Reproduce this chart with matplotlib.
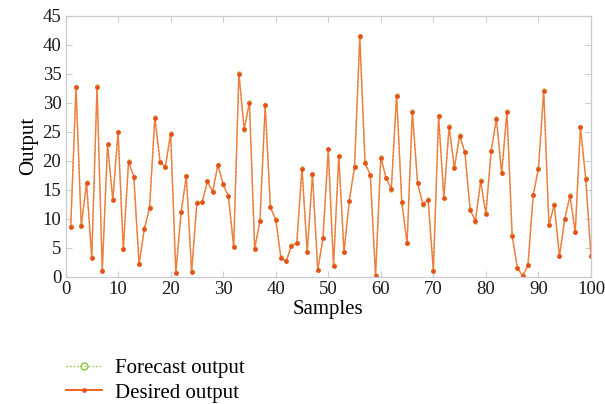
import numpy as np
import matplotlib.pyplot as plt

# sample index and values
samples = np.arange(1, 101)
desired = [
    8.6, 32.6, 8.7, 16.1, 3.2, 32.7, 1.0, 22.8, 13.2, 24.9,
    4.7, 19.8, 17.2, 2.1, 8.2, 11.8, 27.4, 19.8, 18.9, 24.6,
    0.6, 11.1, 17.3, 0.8, 12.7, 12.8, 16.4, 14.6, 19.2, 15.9,
    13.9, 5.1, 35.0, 25.4, 30.0, 4.8, 9.5, 29.5, 11.9, 9.8,
    3.2, 2.6, 5.3, 5.7, 18.6, 4.2, 17.6, 1.1, 6.6, 21.9,
    1.8, 20.7, 4.2, 13.0, 18.9, 41.4, 19.6, 17.5, 0.1, 20.5,
    17.0, 15.1, 31.2, 12.8, 5.7, 28.4, 16.1, 12.5, 13.2, 1.0,
    27.6, 13.5, 25.8, 18.7, 24.3, 21.4, 11.5, 9.6, 16.4, 10.8,
    21.6, 27.2, 17.8, 28.4, 7.0, 1.4, 0.1, 1.9, 14.0, 18.6,
    32.0, 8.8, 12.4, 3.5, 9.9, 13.9, 7.6, 25.7, 16.8, 3.5,
]
# forecast overlaps the desired curve almost exactly
forecast = [
    8.7, 32.7, 8.8, 16.3, 3.3, 32.8, 1.1, 22.7, 13.3, 25.0,
    4.8, 19.9, 17.1, 2.2, 8.3, 11.9, 27.5, 19.7, 18.8, 24.7,
    0.7, 11.2, 17.4, 0.9, 12.8, 12.9, 16.3, 14.7, 19.3, 15.8,
    13.8, 5.2, 35.1, 25.3, 30.1, 4.9, 9.6, 29.6, 12.0, 9.9,
    3.3, 2.7, 5.4, 5.8, 18.7, 4.3, 17.5, 1.2, 6.7, 22.0,
    1.9, 20.8, 4.3, 13.1, 19.0, 41.3, 19.7, 17.4, 0.2, 20.6,
    16.9, 15.0, 31.3, 12.7, 5.8, 28.5, 16.2, 12.3, 13.3, 1.1,
    27.7, 13.6, 25.9, 18.8, 24.4, 21.5, 11.6, 9.4, 16.6, 10.9,
    21.7, 27.3, 17.9, 28.5, 7.1, 1.5, 0.2, 2.0, 14.1, 18.7,
    32.1, 8.9, 12.5, 3.6, 10.0, 14.0, 7.7, 25.8, 16.9, 3.6,
]

plt.rcParams['font.family'] = ['Liberation Serif', 'DejaVu Serif']

fig = plt.figure(figsize=(6.05, 4.04), dpi=100)
ax = fig.add_axes([65.5 / 605, 1 - 276.5 / 404, (591 - 65.5) / 605, (276.5 - 15.5) / 404])

ax.plot(samples, forecast, linestyle=':', color='#8cc63f', linewidth=1.0,
        marker='o', markersize=2.6, markerfacecolor='none', markeredgecolor='#b5d65a',
        markeredgewidth=0.7, label='Forecast output')
ax.plot(samples, desired, linestyle='-', color='#f47b3e', linewidth=1.0,
        marker='o', markersize=2.4, markerfacecolor='#e8501a', markeredgecolor='#e8501a',
        label='Desired output')

ax.set_xlim(0, 100)
ax.set_ylim(0, 45)
ax.set_xticks(np.arange(0, 101, 10))
ax.set_yticks(np.arange(0, 46, 5))
ax.set_xlabel('Samples', fontsize=15, labelpad=2)
ax.set_ylabel('Output', fontsize=15, labelpad=3)

for s in ax.spines.values():
    s.set_color('#c8ccd2')
    s.set_linewidth(0.9)
ax.tick_params(direction='in', top=True, right=True, length=4, width=0.8,
               color='#c8ccd2', labelsize=13.5, labelcolor='#1a1a1a', pad=3)

leg = fig.legend(loc='upper left', bbox_to_anchor=(58 / 605, 1 - 350 / 404), frameon=False,
                 fontsize=15, handlelength=1.73, handletextpad=0.62, labelspacing=0.25,
                 borderaxespad=0)
leg.legend_handles[0].set_markersize(5)
leg.legend_handles[0].set_markeredgecolor('#8cc63f')
leg.legend_handles[0].set_markeredgewidth(1.0)
leg.legend_handles[1].set_color('#f26522')
leg.legend_handles[1].set_linewidth(1.4)

fig.savefig('out.png', dpi=100)
